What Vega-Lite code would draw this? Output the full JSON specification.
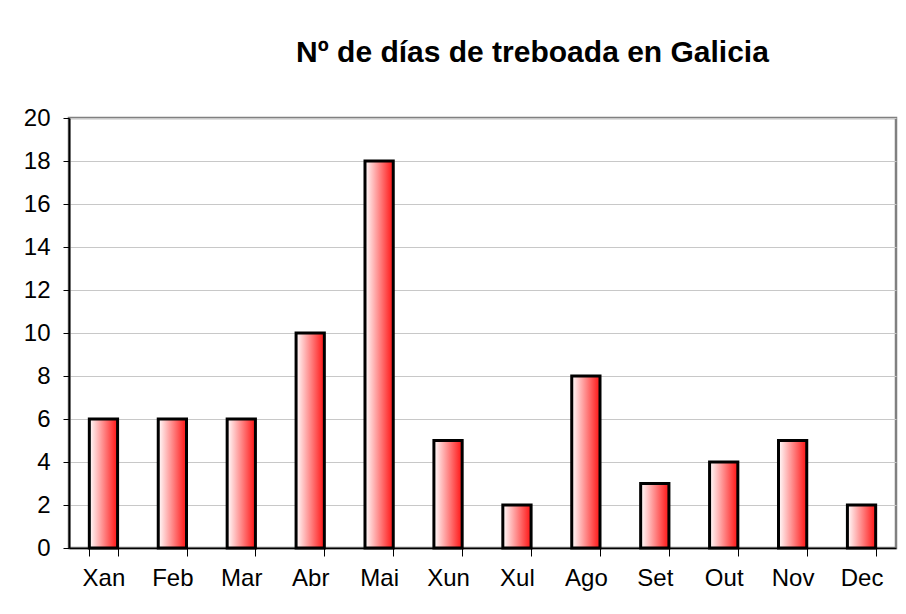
{
  "$schema": "https://vega.github.io/schema/vega-lite/v6.json",
  "width": 827,
  "height": 430,
  "autosize": {"type": "none"},
  "padding": {"left": 69, "top": 118, "right": 10, "bottom": 66},
  "background": "#ffffff",
  "title": {
    "text": "Nº de días de treboada en Galicia",
    "font": "Liberation Sans",
    "fontSize": 30,
    "fontWeight": "bold",
    "color": "#000000",
    "anchor": "middle",
    "frame": "group",
    "baseline": "alphabetic",
    "offset": 14,
    "dx": 50
  },
  "data": {
    "values": [
      {"mes": "Xan", "dias": 6},
      {"mes": "Feb", "dias": 6},
      {"mes": "Mar", "dias": 6},
      {"mes": "Abr", "dias": 10},
      {"mes": "Mai", "dias": 18},
      {"mes": "Xun", "dias": 5},
      {"mes": "Xul", "dias": 2},
      {"mes": "Ago", "dias": 8},
      {"mes": "Set", "dias": 3},
      {"mes": "Out", "dias": 4},
      {"mes": "Nov", "dias": 5},
      {"mes": "Dec", "dias": 2}
    ]
  },
  "mark": {
    "type": "bar",
    "stroke": "#000000",
    "strokeWidth": 3,
    "fill": {
      "gradient": "linear",
      "x1": 0, "y1": 0, "x2": 1, "y2": 0,
      "stops": [
        {"offset": 0, "color": "#ffffff"},
        {"offset": 0.9, "color": "#ff2a2a"},
        {"offset": 1, "color": "#ff1a1a"}
      ]
    }
  },
  "encoding": {
    "x": {
      "field": "mes",
      "type": "nominal",
      "sort": null,
      "scale": {"paddingInner": 0.59, "paddingOuter": 0.295},
      "axis": {
        "title": null,
        "labelAngle": 0,
        "labelFont": "Liberation Sans",
        "labelFontSize": 24,
        "labelColor": "#000000",
        "labelPadding": 10,
        "tickBand": "extent",
        "tickSize": 8,
        "tickColor": "#000000",
        "domainColor": "#000000",
        "domainWidth": 1.5,
        "grid": false
      }
    },
    "y": {
      "field": "dias",
      "type": "quantitative",
      "scale": {"domain": [0, 20], "nice": false},
      "axis": {
        "title": null,
        "values": [0, 2, 4, 6, 8, 10, 12, 14, 16, 18, 20],
        "labelFont": "Liberation Sans",
        "labelFontSize": 24,
        "labelColor": "#000000",
        "labelPadding": 13,
        "tickSize": 6,
        "tickColor": "#000000",
        "domainColor": "#000000",
        "domainWidth": 2,
        "grid": true,
        "gridColor": "#c8c8c8",
        "gridWidth": 1
      }
    }
  },
  "config": {
    "view": {"stroke": "#808080", "strokeWidth": 2.5}
  }
}
